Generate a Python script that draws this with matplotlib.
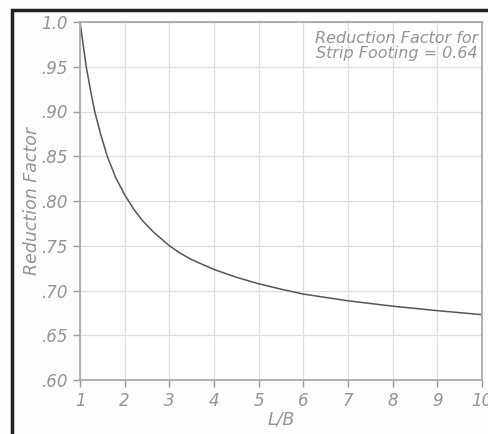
import numpy as np
import matplotlib.pyplot as plt
from matplotlib.patches import Rectangle

# values
lb = [1.0, 1.07, 1.14, 1.23, 1.33, 1.46, 1.61, 1.8, 2.0, 2.2, 2.4, 2.65, 3.0, 3.25, 3.5, 4.0,
      4.5, 5.0, 5.5, 6.0, 7.0, 8.0, 9.0, 10.0]
rf = [1.0, 0.975, 0.95, 0.925, 0.90, 0.875, 0.85, 0.826, 0.807, 0.791, 0.778, 0.765, 0.75,
      0.7415, 0.7345, 0.7235, 0.7148, 0.7075, 0.7015, 0.696, 0.6885, 0.6825, 0.6775, 0.673]

xticks = [1, 2, 3, 4, 5, 6, 7, 8, 9, 10]
yticks = [0.60, 0.65, 0.70, 0.75, 0.80, 0.85, 0.90, 0.95, 1.0]
ylabels = ['.60', '.65', '.70', '.75', '.80', '.85', '.90', '.95', '1.0']

txt = '#939393'
fig = plt.figure(figsize=(4.88, 4.34), dpi=100)
fig.patch.set_facecolor('#fdfdfd')

# black frame, running off the right and bottom edges
fig.patches.append(Rectangle((12/488, -0.1), 1.2, 1.1 - 10/434,
                             transform=fig.transFigure, fill=False,
                             edgecolor='#222222', linewidth=2.5))

ax = fig.add_axes([80/488, 1 - 380/434, 402/488, 358/434])
ax.set_facecolor('white')
ax.plot(lb, rf, color='#555555', linewidth=1.1)

ax.set_xlim(1, 10)
ax.set_ylim(0.60, 1.0)
ax.set_xticks(xticks)
ax.set_xticklabels([str(t) for t in xticks], fontstyle='italic', color=txt, fontsize=12)
ax.set_yticks(yticks)
ax.set_yticklabels(ylabels, fontstyle='italic', color=txt, fontsize=12)
ax.tick_params(direction='out', length=5, color='#999999', width=1, pad=4)
ax.grid(True, color='#dddddd', linewidth=0.9)
for s in ax.spines.values():
    s.set_color('#aaaaaa')
    s.set_linewidth(1.3)

ax.set_xlabel('L/B', fontstyle='italic', color=txt, fontsize=12.5, labelpad=0)
ax.set_ylabel('Reduction Factor', fontstyle='italic', color=txt, fontsize=12.5, labelpad=0)

ax.text(0.99, 0.975, 'Reduction Factor for\nStrip Footing = 0.64', transform=ax.transAxes,
        ha='right', va='top', fontstyle='italic', color=txt, fontsize=11.5, linespacing=1.0)

fig.savefig('out.png', dpi=100, facecolor=fig.get_facecolor())
